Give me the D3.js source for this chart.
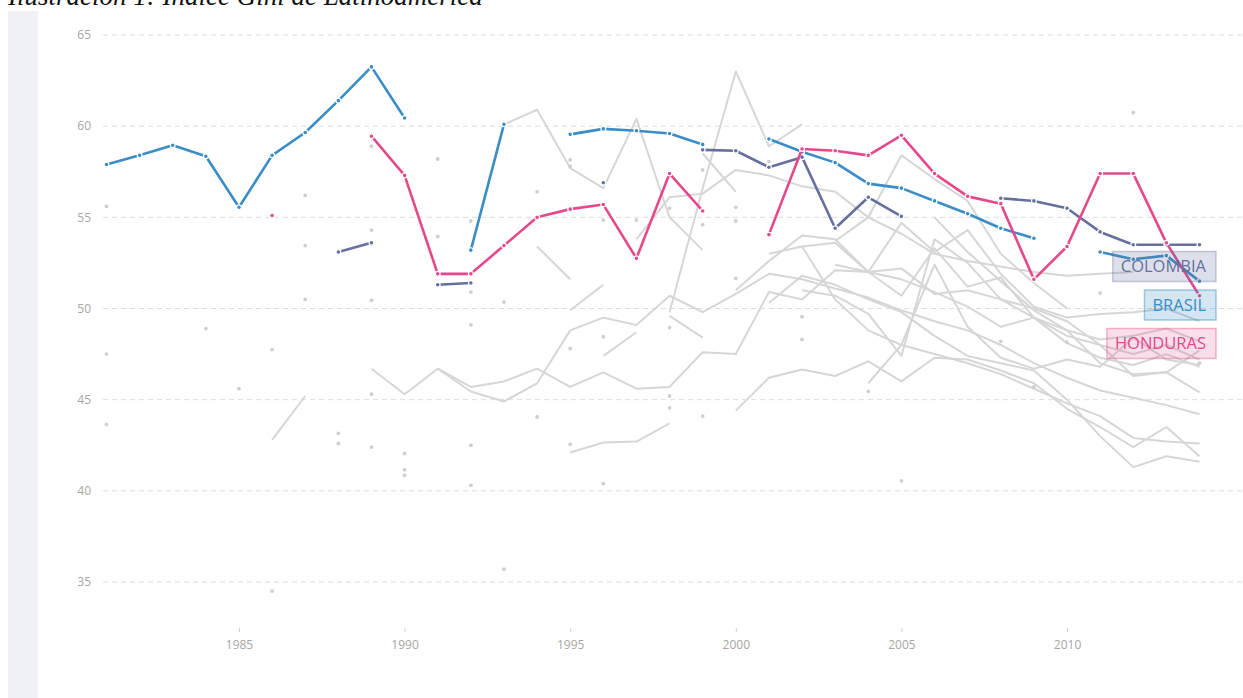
<!DOCTYPE html>
<html><head><meta charset="utf-8">
<script src="https://cdn.jsdelivr.net/npm/d3@7"></script>
<style>
html,body{margin:0;padding:0;background:#fff;}
svg{display:block;}
</style></head>
<body>
<svg id="chart" width="1243" height="698"></svg>
<script>
// ---------- DATA ----------
const title = "Ilustración 1: Índice Gini de Latinoamérica";
const yTicks = [35, 40, 45, 50, 55, 60, 65];
const xTicks = [1985, 1990, 1995, 2000, 2005, 2010];
const startYear = 1981;

// highlighted series, one value per year from 1981 to 2014 (null = no data)
const brasil = [57.9,58.4,58.95,58.35,55.55,58.4,59.65,61.4,63.25,60.45,null,53.2,60.1,null,59.55,59.85,59.75,59.6,59.0,null,59.3,58.6,58.0,56.85,56.6,55.9,55.2,54.4,53.85,null,53.1,52.7,52.9,51.5];
const honduras = [null,null,null,null,null,55.1,null,null,59.45,57.3,51.9,51.9,53.45,55.0,55.45,55.7,52.75,57.4,55.35,null,54.05,58.75,58.65,58.4,59.5,57.4,56.15,55.75,51.6,53.4,57.4,57.4,53.6,50.7];
const colombia = [null,null,null,null,null,null,null,53.1,53.6,null,51.3,51.4,null,null,null,56.9,null,null,58.7,58.65,57.75,58.3,54.4,56.1,55.05,null,null,56.05,55.9,55.5,54.2,53.5,53.5,53.5];

// other countries (grey): start year + yearly values
const greyStarts = [1986,1989,1991,1995,2000,1993,1998,1997,1994,1995,1996,1998,1999,2000,2001,2002,2003,2004,2006,2001,2002,2003];
const greyValues = [
  [42.8,45.2],
  [46.7,45.3,46.7,45.7,46.0,46.7,45.7,46.5,45.6,45.7,47.6,47.5,50.9,50.5,52.1,52.0,51.6,50.9,50.1,49.0,49.5,48.8,48.3,48.5,48.9,48.2],
  [46.7,45.45,44.9,45.9,48.8,49.5,49.1,50.7,49.8,50.8,51.9,51.6,51.1,50.6,49.9,49.3,48.8,48.0,47.0,46.2,45.5,45.1,44.7,44.2],
  [42.1,42.65,42.7,43.7],
  [44.4,46.2,46.65,46.3,47.1,46.0,47.3,47.2,46.6,45.9,44.5,43.5,42.4,43.5,41.9],
  [60.1,60.9,57.7,56.6,60.4,55.0,53.2],
  [49.8,56.6,63.0,58.9,60.1],
  [53.8,56.1,56.3,57.6,57.3,56.7,56.4,55.0,54.1,53.0,52.6,52.3,52.0,51.8,51.9,52.0],
  [53.4,51.6],
  [49.9,51.3],
  [47.4,48.7],
  [49.6,48.4],
  [58.5,56.4],
  [51.0,52.6,54.0,53.8,52.0,52.2,50.8,51.0,50.5,50.0,49.3,48.0,47.5,48.0,47.2],
  [53.0,53.4,53.6,52.0,50.7,53.3,51.2,51.7,49.5,48.1,47.3,46.9,47.5,46.8],
  [51.0,50.7,49.7,47.4,53.8,52.5,50.5,49.5,48.5,48.0,46.3,46.5,47.7],
  [52.4,52.0,54.7,53.1,54.3,51.9,50.1,49.5,49.7,49.8,50.0,49.3],
  [45.9,48.0,52.4,49.0,47.3,46.7,47.2,46.8,48.4,47.2,46.9],
  [55.0,53.1,51.5,49.9,48.8,47.0,46.4,46.5,45.4],
  [50.3,51.8,51.3,50.5,49.8,48.5,47.4,47.0,46.6,45.0,43.0,41.3,41.9,41.6],
  [53.4,50.5,48.8,48.0,47.5,47.0,46.4,45.6,44.8,44.1,42.9,42.7,42.6],
  [53.7,55.0,58.4,57.1,55.9,53.0,51.4,50.0]
];

// isolated grey observations
const dotYears  = [1981,1987,1989,1991,1987,1989,1991,1981,1984,1986,1987,1989,1985,1981,1988,1988,1989,1989,1990,1990,1990,1986,1993,1992,1996,2005,1992,1993,1992,1995,1996,1998,1998,1998,1999,1994,1992,1995,2002,2002,2000,1994,1992,1995,1995,1996,1997,1998,1999,1999,2000,2000,2001,2004,2012,2011,2014,2008,2010,2009];
const dotValues = [55.6,56.2,58.9,58.2,53.45,54.3,53.95,47.5,48.9,47.75,50.5,50.45,45.6,43.65,43.15,42.6,45.3,42.4,42.05,41.15,40.85,34.5,35.7,40.3,40.4,40.55,50.9,50.35,49.1,47.8,48.45,48.95,45.2,44.55,44.1,44.05,42.5,42.55,49.55,48.3,51.65,56.4,54.8,58.15,57.8,54.85,54.85,55.5,57.6,54.6,55.55,54.8,58.05,45.45,60.75,50.85,47.0,48.2,48.15,45.7];

const labelNames = ["COLOMBIA", "BRASIL", "HONDURAS"];

// ---------- DRAW ----------
const svg = d3.select("#chart");
const x = d3.scaleLinear().domain([1981, 2014]).range([106.5, 1199.5]);
const y = d3.scaleLinear().domain([35, 65]).range([582, 35]);

// left side band
svg.append("rect").attr("x", 8).attr("y", 11).attr("width", 30).attr("height", 698).attr("fill", "#eff1f6");

// title
svg.append("text").attr("x", 8).attr("y", 5)
  .attr("font-family", "Liberation Serif, serif").attr("font-style", "italic")
  .attr("font-size", 27).attr("fill", "#111").text(title);

// grid + y labels
const grid = svg.append("g");
yTicks.forEach(t => {
  grid.append("line").attr("x1", 103).attr("x2", 1243).attr("y1", y(t)).attr("y2", y(t))
    .attr("stroke", "#dcdcdc").attr("stroke-width", 1).attr("stroke-dasharray", "5,4");
  grid.append("text").attr("x", 91).attr("y", y(t)).attr("dy", "0.35em")
    .attr("text-anchor", "end").attr("font-family", "Open Sans, sans-serif")
    .attr("font-size", 12).attr("fill", "#a6a6a6").text(t);
});

// x axis
const xAxis = d3.axisBottom(x).tickValues(xTicks).tickFormat(d3.format("d")).tickSize(4).tickPadding(8);
const gx = svg.append("g").attr("transform", "translate(0,628)").call(xAxis);
gx.select(".domain").remove();
gx.selectAll(".tick line").attr("stroke", "#cfcfcf");
gx.selectAll(".tick text").attr("fill", "#a6a6a6").attr("font-family", "Open Sans, sans-serif").attr("font-size", 12);

const toPts = (start, vals) => vals.map((v, i) => ({year: start + i, v: v}));
const line = d3.line().defined(d => d.v != null).x(d => x(d.year)).y(d => y(d.v));

// grey lines
const gg = svg.append("g");
greyValues.forEach((vals, i) => {
  gg.append("path").datum(toPts(greyStarts[i], vals)).attr("d", line)
    .attr("fill", "none").attr("stroke", "#d6d6d6").attr("stroke-width", 2)
    .attr("stroke-linejoin", "round");
});
gg.selectAll("circle.dot").data(dotYears.map((yr, i) => ({year: yr, v: dotValues[i]})))
  .join("circle").attr("class", "dot")
  .attr("cx", d => x(d.year)).attr("cy", d => y(d.v)).attr("r", 1.9).attr("fill", "#cfcfcf");

// highlighted series
const series = [
  {name: "COLOMBIA", vals: colombia, color: "#66709f"},
  {name: "BRASIL", vals: brasil, color: "#3a8dc5"},
  {name: "HONDURAS", vals: honduras, color: "#e5498c"}
];
series.forEach(s => {
  const pts = toPts(startYear, s.vals);
  svg.append("path").datum(pts).attr("d", line).attr("fill", "none")
    .attr("stroke", s.color).attr("stroke-width", 2.6).attr("stroke-linejoin", "round");
  svg.append("g").selectAll("circle").data(pts.filter(d => d.v != null)).join("circle")
    .attr("cx", d => x(d.year)).attr("cy", d => y(d.v)).attr("r", 2.4)
    .attr("fill", s.color).attr("stroke", "#fff").attr("stroke-width", 1.2);
});

// end labels
const labelStyle = [
  {fill: "rgba(102,112,159,0.22)", stroke: "rgba(102,112,159,0.35)", text: "#66709f", cy: 266.5},
  {fill: "rgba(58,141,197,0.22)", stroke: "rgba(58,141,197,0.45)", text: "#3a8dc5", cy: 305},
  {fill: "rgba(229,73,140,0.18)", stroke: "rgba(229,73,140,0.4)", text: "#e5498c", cy: 343.5}
];
labelNames.forEach((n, i) => {
  const st = labelStyle[i];
  const g = svg.append("g");
  const t = g.append("text").attr("x", 1206).attr("y", st.cy).attr("dy", "0.36em")
    .attr("text-anchor", "end").attr("font-family", "Open Sans, sans-serif")
    .attr("font-size", 16.5).attr("fill", st.text).text(n);
  const bb = t.node().getBBox();
  g.insert("rect", "text").attr("x", bb.x - 8).attr("y", st.cy - 15).attr("width", 1216 - (bb.x - 8)).attr("height", 30)
    .attr("fill", st.fill).attr("stroke", st.stroke).attr("stroke-width", 1.5);
});
</script>
</body></html>
